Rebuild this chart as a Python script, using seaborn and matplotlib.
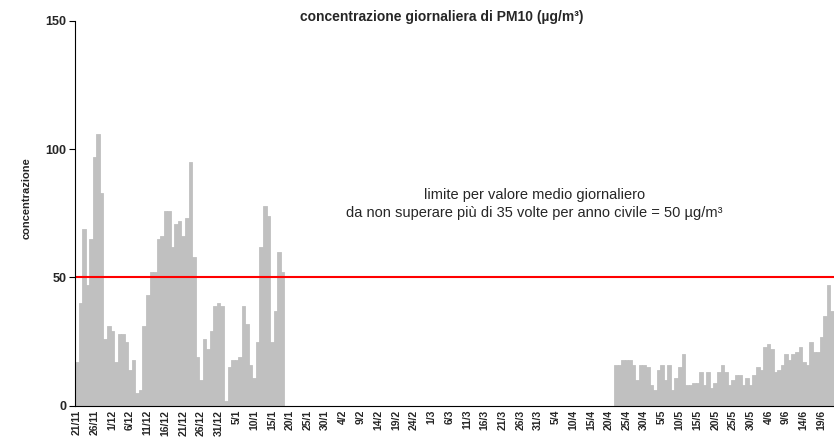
import pandas as pd
import numpy as np
import matplotlib
matplotlib.use("Agg")
import matplotlib.pyplot as plt
import seaborn as sns

# daily PM10, 21/11 -> 22/6 (no data from 19/1 to 21/4)
dates = pd.date_range("2006-11-21", "2007-06-22", freq="D")
day_labels = [f"{d.day}/{d.month}" for d in dates]

pm10_winter = [17, 40, 69, 47, 65, 97, 106, 83, 26, 31,
               29, 17, 28, 28, 25, 14, 18, 5, 6, 31,
               43, 52, 52, 65, 66, 76, 76, 62, 71, 72,
               66, 73, 95, 58, 19, 10, 26, 22, 29, 39,
               40, 39, 2, 15, 18, 18, 19, 39, 32, 16,
               11, 25, 62, 78, 74, 25, 37, 60, 52]
gap_days = 93
pm10_spring = [16, 16, 18, 18, 18, 16, 10, 16, 16,
               15, 8, 6, 14, 16, 10, 16, 6, 11, 15,
               20, 8, 8, 9, 9, 13, 8, 13, 7, 9,
               13, 16, 13, 8, 10, 12, 12, 8, 11, 8, 12,
               15, 14, 23, 24, 22, 13, 14, 16, 20, 18,
               20, 21, 23, 17, 16, 25, 21, 21, 27, 35,
               47, 37]

limit = 50
values = pm10_winter + [np.nan] * gap_days + pm10_spring
df = pd.DataFrame({"giorno": day_labels, "concentrazione": values})

sns.set_style("white")
plt.rcParams["font.family"] = ["Liberation Sans", "DejaVu Sans"]

fig = plt.figure(figsize=(8.34, 4.44), dpi=100)
ax = fig.add_axes([0.09, 0.086, 0.91, 0.867])

sns.barplot(data=df, x="giorno", y="concentrazione", order=day_labels,
            color="#c0c0c0", width=1.0, saturation=1, errorbar=None,
            edgecolor="#c0c0c0", linewidth=0.6, ax=ax)
ax.axhline(limit, color="#ff0000", lw=1.5)

ax.set_xlim(-0.5, len(day_labels) - 0.5)
ax.set_ylim(0, 150)
ax.set_yticks([0, 50, 100, 150])
ax.set_yticklabels(["0", "50", "100", "150"], fontsize=9, fontweight="bold")

pos = np.arange(0, len(day_labels), 5)
ax.set_xticks(pos)
ax.set_xticklabels([day_labels[i] for i in pos], rotation=90,
                   fontsize=7.5, fontweight="bold")
ax.set_xticks(pos - 0.5, minor=True)
ax.tick_params(axis="x", which="major", length=0, pad=3)
ax.tick_params(axis="x", which="minor", length=3, width=0.8, color="black")
ax.tick_params(axis="y", length=4, width=0.8, color="black", left=True, pad=2)

ax.set_xlabel("")
ax.set_ylabel("concentrazione", fontsize=8, fontweight="bold")
ax.yaxis.set_label_coords(-0.057, 0.54)
sns.despine(ax=ax)
for s in ["left", "bottom"]:
    ax.spines[s].set_color("black")
    ax.spines[s].set_linewidth(0.8)

fig.text(0.53, 0.962, "concentrazione giornaliera di PM10 (µg/m³)",
         ha="center", va="center", fontsize=10, fontweight="bold")
ax.text(129, 82, "limite per valore medio giornaliero", ha="center",
        va="center", fontsize=10.5)
ax.text(129, 75, "da non superare più di 35 volte per anno civile = 50 µg/m³",
        ha="center", va="center", fontsize=10.5)

fig.savefig("out.png", dpi=100)
